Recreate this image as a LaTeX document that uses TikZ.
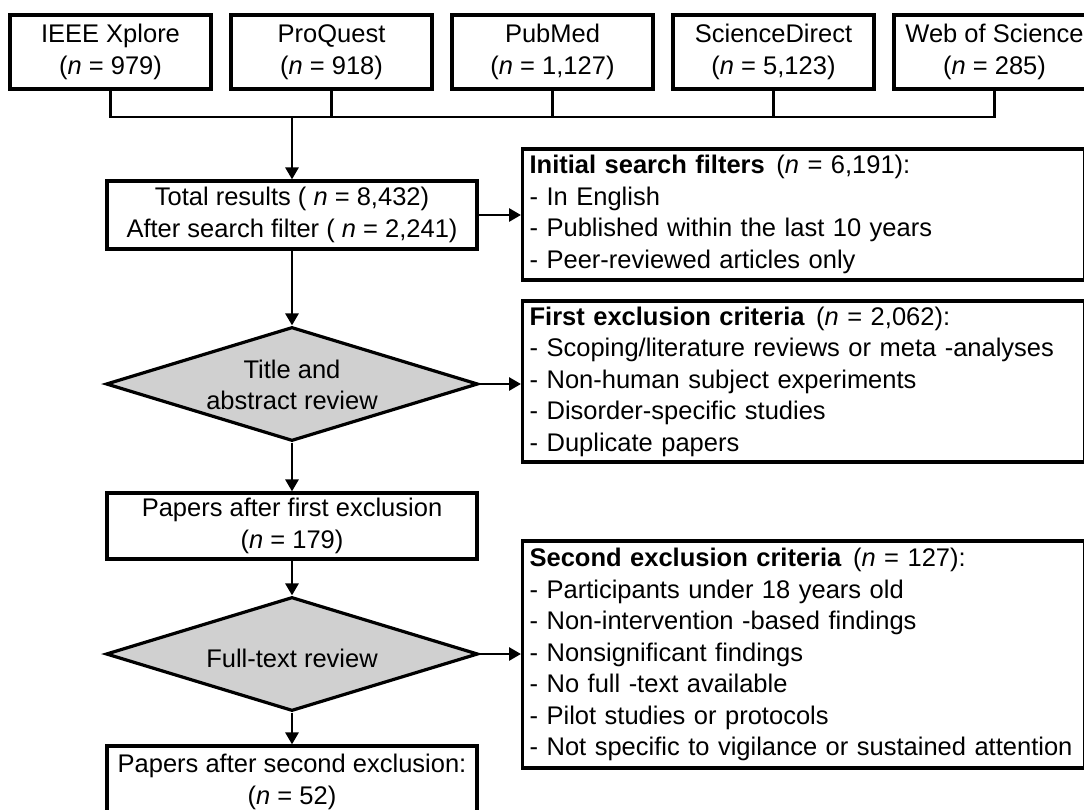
\documentclass[tikz,border=0pt]{standalone}
\usepackage{fontspec}
\setmainfont{Liberation Sans}
\usetikzlibrary{arrows.meta,shapes.geometric}
\definecolor{diagray}{RGB}{208,208,208}

\begin{document}
\begin{tikzpicture}[x=1pt,y=-1pt,
  txt/.style={font=\fontsize{25.5}{31.5}\selectfont},
  box/.style={txt, draw, line width=3.2pt, inner sep=0pt, align=center},
  srcbox/.style={box, minimum width=201pt, minimum height=74pt},
  midbox/.style={box, minimum width=370pt},
  critbox/.style={txt, draw, line width=3.2pt, minimum width=562pt, text width=548pt,
    inner xsep=7pt, inner ysep=0pt, align=left, anchor=west},
  review/.style={diamond, draw, line width=3.2pt, fill=diagray, minimum width=372pt,
    minimum height=114pt, inner sep=0pt},
  link/.style={line width=2.8pt},
  flow/.style={link, -{Triangle[length=12pt,width=13pt]}}
]
\useasboundingbox (0,0) rectangle (1084,809);

% databases searched
\node[srcbox] (ieee) at (110.5,52) {IEEE Xplore\\(\textit{n} = 979)};
\node[srcbox] (proq) at (331.5,52) {ProQuest\\(\textit{n} = 918)};
\node[srcbox] (pubm) at (552.5,52) {PubMed\\(\textit{n} = 1,127)};
\node[srcbox] (scid) at (773.5,52) {ScienceDirect\\(\textit{n} = 5,123)};
\node[srcbox] (wos)  at (994.5,52) {Web of Science\\(\textit{n} = 285)};

% main flow
\node[midbox, minimum height=68pt] (total) at (292,215)
  {Total results ( \textit{n} = 8,432)\\After search filter ( \textit{n} = 2,241)};
\node[review] (tar) at (292,384) {};
\node[txt, align=center] (tartext) at ([yshift=-1pt]tar.center) {Title and\\abstract review};
\node[midbox, minimum height=66pt] (pap1) at (292,526)
  {Papers after first exclusion\\(\textit{n} = 179)};
\node[review] (ftr) at (292,654) {};
\node[txt, align=center] (ftrtext) at ([yshift=-4pt]ftr.center) {Full-text review};
\node[midbox, minimum height=72pt] (pap2) at (292,782)
  {Papers after second exclusion:\\(\textit{n} = 52)};

% exclusion criteria
\node[critbox, minimum height=131pt] (initial) at (521,214.5)
  {\textbf{Initial search filters}\hspace{0.45em}(\textit{n} = 6,191):\\
   - In English\\
   - Published within the last 10 years\\
   - Peer-reviewed articles only};
\node[critbox, minimum height=161pt] (first) at (521,381.5)
  {\textbf{First exclusion criteria}\hspace{0.45em}(\textit{n} = 2,062):\\
   - Scoping/literature reviews or meta -analyses\\
   - Non-human subject experiments\\
   - Disorder-specific studies\\
   - Duplicate papers};
\node[critbox, minimum height=227pt] (second) at (521,654.5)
  {\textbf{Second exclusion criteria}\hspace{0.45em}(\textit{n} = 127):\\
   - Participants under 18 years old\\
   - Non-intervention -based findings\\
   - Nonsignificant findings\\
   - No full -text available\\
   - Pilot studies or protocols\\
   - Not specific to vigilance or sustained attention};

% merge of the database counts
\coordinate (bus) at (292,117);
\draw[link] (ieee.south) |- (wos.south |- bus) -- (wos.south);
\draw[link] (proq.south) -- (proq.south |- bus);
\draw[link] (pubm.south) -- (pubm.south |- bus);
\draw[link] (scid.south) -- (scid.south |- bus);
\draw[flow] (bus) -- (total.north);

% connectors
\draw[flow] (total.south) -- (tar.north);
\draw[flow] (tar.south) -- (pap1.north);
\draw[flow] (pap1.south) -- (ftr.north);
\draw[flow] (ftr.south) -- (pap2.north);
\draw[flow] (total.east) -- (initial.west |- total.east);
\draw[flow] (tar.east) -- (first.west |- tar.east);
\draw[flow] (ftr.east) -- (second.west |- ftr.east);
\end{tikzpicture}
\end{document}
